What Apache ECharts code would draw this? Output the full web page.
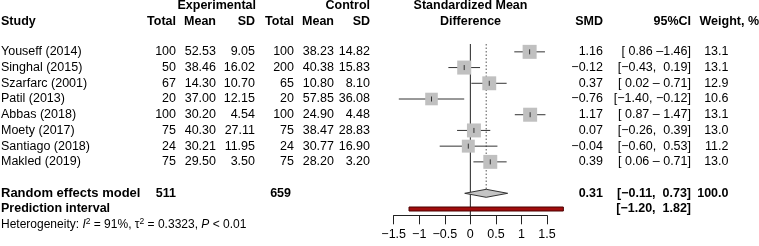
<!DOCTYPE html>
<html>
<head>
<meta charset="utf-8">
<script src="https://cdn.jsdelivr.net/npm/echarts@6/dist/echarts.min.js"></script>
<style>
  html, body { margin: 0; padding: 0; background: #fff; }
  #chart { width: 759px; height: 246px; }
</style>
</head>
<body>
<div id="chart"></div>
<script>
// forest plot - SMD
const studies = ['Youseff (2014)', 'Singhal (2015)', 'Szarfarc (2001)', 'Patil (2013)', 'Abbas (2018)', 'Moety (2017)', 'Santiago (2018)', 'Makled (2019)']
const expTotal = [100, 50, 67, 20, 100, 75, 24, 75]
const expMean = [52.53, 38.46, 14.30, 37.00, 30.20, 40.30, 30.21, 29.50]
const expSD = [9.05, 16.02, 10.70, 12.15, 4.54, 27.11, 11.95, 3.50]
const ctrlTotal = [100, 200, 65, 20, 100, 75, 24, 75]
const ctrlMean = [38.23, 40.38, 10.80, 57.85, 24.90, 38.47, 30.77, 28.20]
const ctrlSD = [14.82, 15.83, 8.10, 36.08, 4.48, 28.83, 16.90, 3.20]
const smd = [1.16, -0.12, 0.37, -0.76, 1.17, 0.07, -0.04, 0.39]
const ciLow = [0.86, -0.43, 0.02, -1.40, 0.87, -0.26, -0.60, 0.06]
const ciHigh = [1.46, 0.19, 0.71, -0.12, 1.47, 0.39, 0.53, 0.71]
const ciLabels = ['[ 0.86 \u20131.46]', '[\u22120.43,  0.19]', '[ 0.02 \u2013 0.71]', '[\u22121.40, \u22120.12]', '[ 0.87 \u2013 1.47]', '[\u22120.26,  0.39]', '[\u22120.60,  0.53]', '[ 0.06 \u2013 0.71]']
const weights = [13.1, 13.1, 12.9, 10.6, 13.1, 13.0, 11.2, 13.0]

// pooled
const randomTotals = [511, 659]
const randomEst = 0.31
const randomCI = [-0.11, 0.73]
const predCI = [-1.20, 1.82]
const heterogeneity = { i2: '91%', tau2: '0.3323', p: '< 0.01' }

const xTicks = [-1.5, -1, -0.5, 0, 0.5, 1, 1.5]

const RANDOM_ROW = 9
const PRED_ROW = 10
const FONT = '"Liberation Sans", Arial, Helvetica, sans-serif'
const FS = 12.5

const minus = (s) => String(s).replace('-', '\u2212')
const f2 = (v) => minus(v.toFixed(2))

// column right edges (px)
const COL = { study: 1, eTot: 176, eMean: 216, eSD: 255, cTot: 294, cMean: 334, cSD: 370, smd: 603, ci: 691, w: 728.5 }

const chart = echarts.init(document.getElementById('chart'), null, { renderer: 'canvas' })

function txt(x, y, text, align, bold, size) {
  return {
    type: 'text',
    x: x, y: y,
    style: {
      text: text,
      fill: '#000',
      font: (bold ? 'bold ' : '') + (size || FS) + 'px ' + FONT,
      align: align || 'right',
      verticalAlign: 'middle'
    }
  }
}

const tableRows = studies.map((s, i) => [i])

const option = {
  animation: false,
  backgroundColor: '#fff',
  grid: { left: 393.7, right: 212, top: 44, bottom: 30.7, containLabel: false },
  xAxis: {
    type: 'value',
    min: -1.5,
    max: 1.5,
    interval: 0.5,
    splitLine: { show: false },
    axisLine: { show: true, onZero: false, lineStyle: { color: '#222', width: 1 } },
    axisTick: { show: true, length: 9, lineStyle: { color: '#222', width: 1 } },
    axisLabel: {
      margin: 13,
      color: '#000',
      fontSize: FS,
      fontFamily: FONT,
      formatter: (v) => xTicks.indexOf(v) >= 0 ? minus(v) : ''
    }
  },
  yAxis: { type: 'value', inverse: true, min: -0.5, max: 10.4, show: false },
  graphic: [
    txt(256, 6, 'Experimental', 'right', true),
    txt(370, 6, 'Control', 'right', true),
    txt(470.5, 6, 'Standardized Mean', 'center', true),
    txt(COL.study, 21.5, 'Study', 'left', true),
    txt(COL.eTot, 21.5, 'Total', 'right', true),
    txt(COL.eMean, 21.5, 'Mean', 'right', true),
    txt(COL.eSD, 21.5, 'SD', 'right', true),
    txt(COL.cTot, 21.5, 'Total', 'right', true),
    txt(COL.cMean, 21.5, 'Mean', 'right', true),
    txt(COL.cSD, 21.5, 'SD', 'right', true),
    txt(470.5, 21.5, 'Difference', 'center', true),
    txt(COL.smd, 21.5, 'SMD', 'right', true),
    txt(COL.ci, 21.5, '95%CI', 'right', true),
    txt(759, 21.5, 'Weight, %', 'right', true)
  ],
  series: [
    {
      // reference lines
      type: 'custom',
      data: [[0]],
      silent: true,
      renderItem: (params, api) => {
        const top = api.coord([0, -0.5])[1]
        const bottom = api.coord([0, 10.4])[1]
        const x0 = api.coord([0, 0])[0]
        const xr = api.coord([randomEst, 0])[0]
        const dTop = api.coord([randomEst, RANDOM_ROW])[1] - 4
        return {
          type: 'group',
          children: [
            { type: 'line', shape: { x1: x0, y1: top, x2: x0, y2: bottom }, style: { stroke: '#222', lineWidth: 1 } },
            { type: 'line', shape: { x1: xr, y1: top, x2: xr, y2: dTop }, style: { stroke: '#555', lineWidth: 1, lineDash: [1.5, 2] } }
          ]
        }
      }
    },
    {
      // study estimates
      type: 'custom',
      data: smd.map((v, i) => [v, i]),
      silent: true,
      renderItem: (params, api) => {
        const i = params.dataIndex
        const row = api.value(1)
        const c = api.coord([api.value(0), row])
        const lo = api.coord([ciLow[i], row])
        const hi = api.coord([ciHigh[i], row])
        const size = 3.87 * Math.sqrt(weights[i])
        return {
          type: 'group',
          children: [
            { type: 'line', shape: { x1: lo[0], y1: c[1], x2: hi[0], y2: c[1] }, style: { stroke: '#333', lineWidth: 1 } },
            { type: 'rect', shape: { x: c[0] - size / 2, y: c[1] - size / 2, width: size, height: size }, style: { fill: '#c0c0c0' } },
            { type: 'line', shape: { x1: c[0], y1: c[1] - 2.5, x2: c[0], y2: c[1] + 2.5 }, style: { stroke: '#333', lineWidth: 1 } }
          ]
        }
      }
    },
    {
      // pooled diamond + prediction interval
      type: 'custom',
      data: [[randomEst, RANDOM_ROW]],
      silent: true,
      renderItem: (params, api) => {
        const c = api.coord([randomEst, RANDOM_ROW])
        const lo = api.coord([randomCI[0], RANDOM_ROW])
        const hi = api.coord([randomCI[1], RANDOM_ROW])
        const pLo = api.coord([predCI[0], PRED_ROW])
        const pHi = api.coord([predCI[1], PRED_ROW])
        return {
          type: 'group',
          children: [
            {
              type: 'polygon',
              shape: { points: [[lo[0], c[1]], [c[0], c[1] - 4], [hi[0], c[1]], [c[0], c[1] + 4]] },
              style: { fill: '#c4c4c4', stroke: '#333', lineWidth: 1 }
            },
            {
              type: 'rect',
              shape: { x: pLo[0], y: pLo[1] - 2, width: pHi[0] - pLo[0], height: 4 },
              style: { fill: '#a10d0d', stroke: '#4a0000', lineWidth: 1 }
            }
          ]
        }
      }
    },
    {
      // table text
      type: 'custom',
      data: tableRows,
      silent: true,
      renderItem: (params, api) => {
        const i = api.value(0)
        const y = api.coord([0, i])[1]
        return {
          type: 'group',
          children: [
            txt(COL.study, y, studies[i], 'left'),
            txt(COL.eTot, y, String(expTotal[i])),
            txt(COL.eMean, y, expMean[i].toFixed(2)),
            txt(COL.eSD, y, expSD[i].toFixed(2)),
            txt(COL.cTot, y, String(ctrlTotal[i])),
            txt(COL.cMean, y, ctrlMean[i].toFixed(2)),
            txt(COL.cSD, y, ctrlSD[i].toFixed(2)),
            txt(COL.smd, y, f2(smd[i])),
            txt(COL.ci, y, ciLabels[i]),
            txt(COL.w, y, weights[i].toFixed(1))
          ]
        }
      }
    },
    {
      // pooled text
      type: 'custom',
      data: [[RANDOM_ROW]],
      silent: true,
      renderItem: (params, api) => {
        const y1 = api.coord([0, RANDOM_ROW])[1]
        const y2 = api.coord([0, PRED_ROW])[1]
        const y3 = y2 + 15.5
        return {
          type: 'group',
          children: [
            txt(COL.study, y1, 'Random effects model', 'left', true, 13),
            txt(COL.eTot, y1, String(randomTotals[0]), 'right', true),
            txt(COL.cTot - 3, y1, String(randomTotals[1]), 'right', true),
            txt(COL.smd, y1, f2(randomEst), 'right', true),
            txt(COL.ci, y1, '[' + f2(randomCI[0]) + ',  ' + f2(randomCI[1]) + ']', 'right', true),
            txt(COL.w, y1, '100.0', 'right', true),
            txt(COL.study, y2, 'Prediction interval', 'left', true),
            txt(COL.ci, y2, '[' + f2(predCI[0]) + ',  ' + f2(predCI[1]) + ']', 'right', true),
            {
              type: 'text',
              x: COL.study, y: y3,
              style: {
                text: '{a|Heterogeneity: }{i|I}{s|2}{a| = ' + heterogeneity.i2 + ', \u03c4}{s|2}{a| = ' + heterogeneity.tau2 + ', }{i|P}{a| ' + heterogeneity.p + '}',
                align: 'left',
                verticalAlign: 'middle',
                rich: {
                  a: { fontSize: 12, fontFamily: FONT, fill: '#000', color: '#000' },
                  i: { fontSize: 12, fontFamily: FONT, fontStyle: 'italic', fill: '#000', color: '#000' },
                  s: { fontSize: 8.5, fontFamily: FONT, fill: '#000', color: '#000', verticalAlign: 'top', padding: [0, 0, 6, 0] }
                }
              }
            }
          ]
        }
      }
    }
  ]
}

chart.setOption(option)
window.addEventListener('resize', () => chart.resize())
</script>
</body>
</html>
